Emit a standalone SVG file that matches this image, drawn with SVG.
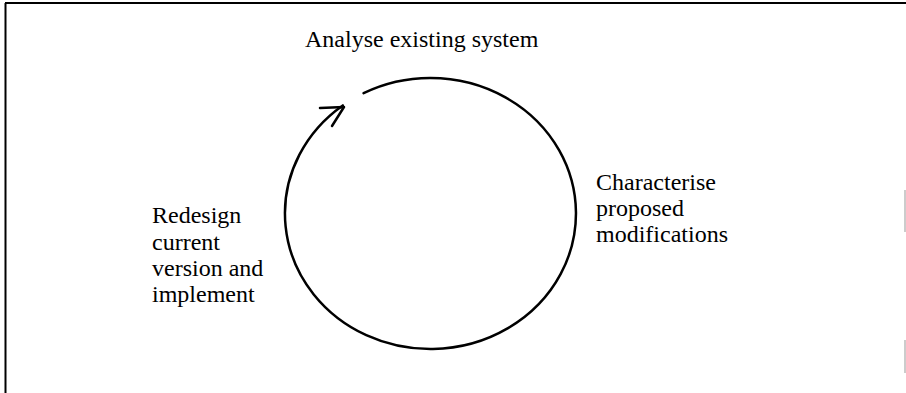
<svg xmlns="http://www.w3.org/2000/svg" width="906" height="393" viewBox="0 0 906 393">
<style>
.t{font-family:"Liberation Serif","Times New Roman",serif;font-size:24px;fill:#000}
.c{fill:none;stroke:#000;stroke-width:2.5;stroke-linecap:round;stroke-linejoin:round}
.f{stroke:#000;stroke-width:2;fill:none}
</style>
<rect width="906" height="393" fill="#fff"/>
<g id="frame">
<path class="f" d="M5,3 H906 M5.5,3 V393"/>
<path d="M905,190 V232 M905,340 V373" stroke="#999" stroke-width="1" fill="none"/>
</g>
<g id="connectors">
<path class="c" d="M363.6,93.2 A145.5,135.5 0 1 1 342.8,105.4"/>
<path class="c" d="M320,108 L344,107 L332,126"/>
</g>
<g id="n1"><text class="t" x="305" y="47">Analyse existing system</text></g>
<g id="n2"><text class="t" x="596" y="190">Characterise</text><text class="t" x="596" y="216">proposed</text><text class="t" x="596" y="242">modifications</text></g>
<g id="n3"><text class="t" x="152" y="223">Redesign</text><text class="t" x="152" y="250">current</text><text class="t" x="152" y="276">version and</text><text class="t" x="152" y="302">implement</text></g>
</svg>
